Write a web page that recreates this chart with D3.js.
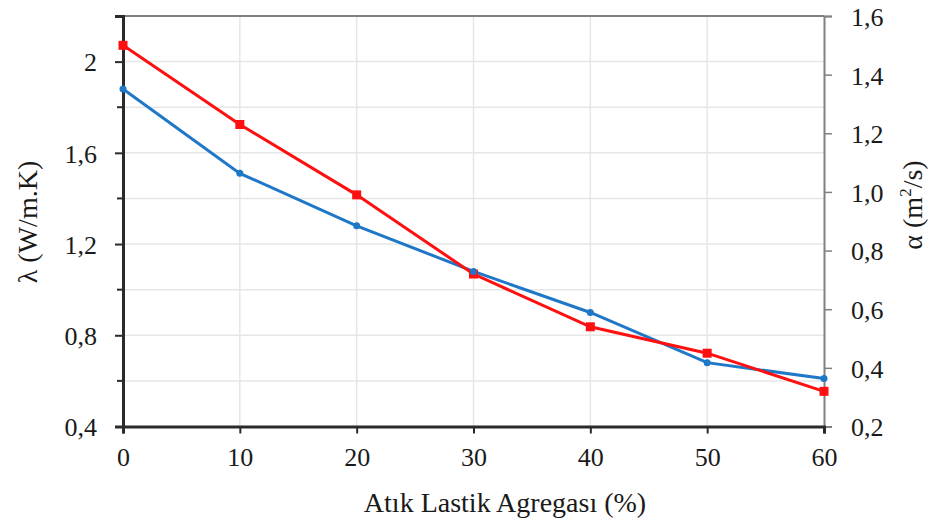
<!DOCTYPE html>
<html><head><meta charset="utf-8">
<script src="https://cdn.jsdelivr.net/npm/d3@7"></script>
<style>body{margin:0;background:#fff}svg{display:block}text{font-family:'Liberation Serif','Times New Roman',serif}</style>
</head><body><div id="chart"></div>
<script>
const categories = [0, 10, 20, 30, 40, 50, 60];
const lambdaValues = [1.88, 1.51, 1.28, 1.08, 0.90, 0.68, 0.61];   // left axis, W/m.K
const alphaValues  = [1.50, 1.23, 0.99, 0.72, 0.54, 0.45, 0.32];   // right axis, m²/s
const xTicks = [0, 10, 20, 30, 40, 50, 60];
const leftTicks = [0.4, 0.8, 1.2, 1.6, 2.0];
const leftMinor = [0.6, 1.0, 1.4, 1.8];
const leftGrid = [0.6, 0.8, 1.0, 1.2, 1.4, 1.6, 1.8, 2.0];
const rightTicks = [0.2, 0.4, 0.6, 0.8, 1.0, 1.2, 1.4, 1.6];
const xTitle = "Atık Lastik Agregası (%)";
const leftTitle = "λ (W/m.K)";

const W = 930, H = 524;
const m = {l: 123, r: 106, t: 16, b: 97.5};
const iw = W - m.l - m.r, ih = H - m.t - m.b;
const font = "'Liberation Serif','Times New Roman',serif";
const txt = "#1a1a1a";

const svg = d3.select("#chart").append("svg").attr("width", W).attr("height", H);
const g = svg.append("g").attr("transform", `translate(${m.l},${m.t})`);

const x = d3.scaleLinear().domain([0, 60]).range([0, iw]);
const yL = d3.scaleLinear().domain([0.4, 2.2]).range([ih, 0]);
const yR = d3.scaleLinear().domain([0.2, 1.6]).range([ih, 0]);

// grid
g.selectAll(".hg").data(leftGrid).join("line")
  .attr("x1", 0).attr("x2", iw).attr("y1", d => yL(d)).attr("y2", d => yL(d))
  .attr("stroke", "#e6e6e6").attr("stroke-width", 1.5);
g.selectAll(".vg").data(xTicks.slice(1, -1)).join("line")
  .attr("x1", d => x(d)).attr("x2", d => x(d)).attr("y1", 0).attr("y2", ih)
  .attr("stroke", "#e6e6e6").attr("stroke-width", 1.5);

// top border
g.append("line").attr("x1", 0).attr("x2", iw).attr("y1", 0).attr("y2", 0)
  .attr("stroke", "#808080").attr("stroke-width", 2);

const fmt = d => d3.format(".1f")(d).replace(".", ",");
const fmtL = d => (d === 2 ? "2" : fmt(d));

function styleText(sel) {
  sel.selectAll("text").attr("font-family", font).style("font-family", font)
    .attr("font-size", 26).attr("fill", txt);
}

// right axis
const rAx = g.append("g").attr("transform", `translate(${iw},0)`)
  .call(d3.axisRight(yR).tickValues(rightTicks).tickSize(8).tickPadding(19).tickFormat(fmt));
rAx.attr("font-family", null);
rAx.select(".domain").attr("stroke", "#808080").attr("stroke-width", 2);
rAx.selectAll(".tick line").attr("stroke", "#808080").attr("stroke-width", 1.5);
styleText(rAx);
rAx.selectAll("text").attr("dy", "0.36em");

// left axis
const lAx = g.append("g")
  .call(d3.axisLeft(yL).tickValues(leftTicks).tickSize(8).tickPadding(18).tickFormat(fmtL));
lAx.attr("font-family", null);
lAx.select(".domain").attr("stroke", "#2a2a2a").attr("stroke-width", 3);
lAx.selectAll(".tick line").attr("stroke", "#2a2a2a").attr("stroke-width", 2);
styleText(lAx);
lAx.selectAll("text").attr("dy", "0.36em");
g.selectAll(".minL").data(leftMinor).join("line")
  .attr("x1", -6).attr("x2", 0).attr("y1", d => yL(d)).attr("y2", d => yL(d))
  .attr("stroke", "#2a2a2a").attr("stroke-width", 2);

// bottom axis
const bAx = g.append("g").attr("transform", `translate(0,${ih})`)
  .call(d3.axisBottom(x).tickValues(xTicks).tickSize(7).tickPadding(14).tickFormat(d3.format("d")));
bAx.attr("font-family", null);
bAx.select(".domain").attr("stroke", "#2a2a2a").attr("stroke-width", 3);
bAx.selectAll(".tick line").attr("stroke", "#2a2a2a").attr("stroke-width", 2);
styleText(bAx);

// lines
const blue = "#1f77c8", red = "#ff1010";
const lineL = d3.line().x((d, i) => x(categories[i])).y(d => yL(d));
const lineR = d3.line().x((d, i) => x(categories[i])).y(d => yR(d));
g.append("path").datum(lambdaValues).attr("d", lineL).attr("fill", "none")
  .attr("stroke", blue).attr("stroke-width", 3);
g.append("path").datum(alphaValues).attr("d", lineR).attr("fill", "none")
  .attr("stroke", red).attr("stroke-width", 3);
g.selectAll(".pr").data(alphaValues).join("rect")
  .attr("x", (d, i) => x(categories[i]) - 4.5).attr("y", d => yR(d) - 4.5)
  .attr("width", 9).attr("height", 9).attr("fill", red);
g.selectAll(".pb").data(lambdaValues).join("circle")
  .attr("cx", (d, i) => x(categories[i])).attr("cy", d => yL(d)).attr("r", 3.5).attr("fill", blue);

// titles
svg.append("text").attr("x", 505).attr("y", 512).attr("text-anchor", "middle")
  .style("font-family", font).attr("font-size", 28).attr("fill", txt).text(xTitle);
svg.append("text").attr("transform", "translate(37,222) rotate(-90)").attr("text-anchor", "middle")
  .style("font-family", font).attr("font-size", 28).attr("fill", txt).text(leftTitle);
const rt = svg.append("text").attr("transform", "translate(922,205) rotate(-90)").attr("text-anchor", "middle")
  .style("font-family", font).attr("font-size", 28).attr("fill", txt);
rt.append("tspan").text("α (m");
rt.append("tspan").attr("font-size", 17).attr("dy", -11).text("2");
rt.append("tspan").attr("dy", 11).text("/s)");
</script></body></html>
